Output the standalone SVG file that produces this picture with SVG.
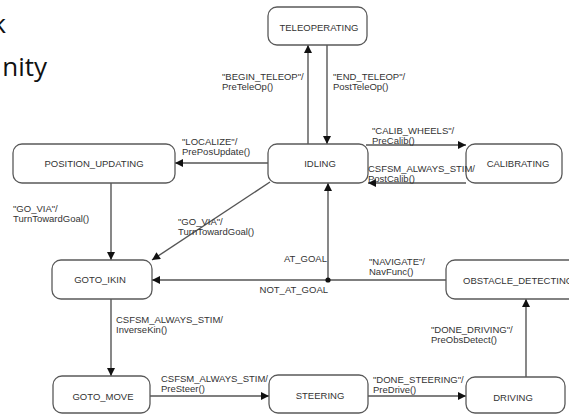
<svg xmlns="http://www.w3.org/2000/svg" width="569" height="415" viewBox="0 0 569 415">
  <style>
    .node rect { fill: #ffffff; stroke: #5a5a5a; stroke-width: 1.3; }
    .node text { font-family: "Liberation Sans", Arial, sans-serif; font-size: 9.5px; fill: #333333; text-anchor: middle; dominant-baseline: central; }
    .edge { fill: none; stroke: #555555; stroke-width: 1.4; }
    .lbl { font-family: "Liberation Sans", Arial, sans-serif; font-size: 9.5px; fill: #333333; }
    .slide { font-family: "Open Sans", "Noto Sans", sans-serif; font-size: 26px; fill: #111111; }
  </style>
  <defs>
    <marker id="arr" viewBox="0 0 10 10" refX="10" refY="5" markerWidth="9" markerHeight="8" markerUnits="userSpaceOnUse" orient="auto">
      <path d="M0,0 L10,5 L0,10 z" fill="#111111"/>
    </marker>
  </defs>

  <rect width="569" height="415" fill="#ffffff"/>

  <!-- slide text cut at the left edge -->
  <text class="slide" x="6" y="33" text-anchor="end">k</text>
  <text class="slide" x="47" y="76" text-anchor="end">nity</text>

  <!-- connectors -->
  <g id="connectors">
    <line class="edge" x1="308" y1="144" x2="308" y2="45" marker-end="url(#arr)"/>
    <line class="edge" x1="327" y1="45" x2="327" y2="144" marker-end="url(#arr)"/>
    <line class="edge" x1="268" y1="163" x2="175" y2="163" marker-end="url(#arr)"/>
    <line class="edge" x1="366" y1="145" x2="466" y2="145" marker-end="url(#arr)"/>
    <line class="edge" x1="466" y1="183" x2="368" y2="183" marker-end="url(#arr)"/>
    <line class="edge" x1="111" y1="183" x2="111" y2="260" marker-end="url(#arr)"/>
    <line class="edge" x1="270" y1="182" x2="152" y2="260" marker-end="url(#arr)"/>
    <line class="edge" x1="446" y1="280" x2="152" y2="280" marker-end="url(#arr)"/>
    <line class="edge" x1="328" y1="280" x2="328" y2="183" marker-end="url(#arr)"/>
    <circle cx="328" cy="280" r="2.6" fill="#111111"/>
    <line class="edge" x1="111" y1="299" x2="111" y2="376" marker-end="url(#arr)"/>
    <line class="edge" x1="150" y1="396" x2="269" y2="396" marker-end="url(#arr)"/>
    <line class="edge" x1="368" y1="396" x2="466" y2="396" marker-end="url(#arr)"/>
    <line class="edge" x1="526" y1="377" x2="526" y2="299" marker-end="url(#arr)"/>
  </g>

  <!-- states -->
  <g id="teleoperating" class="node">
    <rect x="268" y="7" width="99" height="38" rx="9"/>
    <text x="319" y="27">TELEOPERATING</text>
  </g>
  <g id="idling" class="node">
    <rect x="268" y="144" width="100" height="39" rx="9"/>
    <text x="320" y="163">IDLING</text>
  </g>
  <g id="calibrating" class="node">
    <rect x="466" y="144" width="96" height="39" rx="9"/>
    <text x="518" y="163">CALIBRATING</text>
  </g>
  <g id="position_updating" class="node">
    <rect x="13" y="144" width="162" height="39" rx="9"/>
    <text x="94" y="163">POSITION_UPDATING</text>
  </g>
  <g id="goto_ikin" class="node">
    <rect x="52" y="260" width="100" height="39" rx="9"/>
    <text x="100" y="279">GOTO_IKIN</text>
  </g>
  <g id="obstacle_detecting" class="node">
    <rect x="446" y="260" width="150" height="39" rx="9"/>
    <text x="463" y="280" style="text-anchor:start">OBSTACLE_DETECTING</text>
  </g>
  <g id="goto_move" class="node">
    <rect x="53" y="376" width="97" height="37" rx="9"/>
    <text x="103" y="396">GOTO_MOVE</text>
  </g>
  <g id="steering" class="node">
    <rect x="269" y="375" width="99" height="38" rx="9"/>
    <text x="320" y="395">STEERING</text>
  </g>
  <g id="driving" class="node">
    <rect x="466" y="377" width="99" height="36" rx="9"/>
    <text x="513" y="397">DRIVING</text>
  </g>

  <!-- transition labels: event / action -->
  <g id="transition-labels">
    <text class="lbl" x="222" y="80">"BEGIN_TELEOP"/</text>
    <text class="lbl" x="222" y="89.5">PreTeleOp()</text>
    <text class="lbl" x="333" y="80">"END_TELEOP"/</text>
    <text class="lbl" x="333" y="89.5">PostTeleOp()</text>
    <text class="lbl" x="182" y="145">"LOCALIZE"/</text>
    <text class="lbl" x="182" y="155">PrePosUpdate()</text>
    <text class="lbl" x="372" y="134">"CALIB_WHEELS"/</text>
    <text class="lbl" x="372" y="143.5">PreCalib()</text>
    <text class="lbl" x="368" y="172">CSFSM_ALWAYS_STIM/</text>
    <text class="lbl" x="368" y="181.5">PostCalib()</text>
    <text class="lbl" x="13" y="212">"GO_VIA"/</text>
    <text class="lbl" x="13" y="222">TurnTowardGoal()</text>
    <text class="lbl" x="178" y="225">"GO_VIA"/</text>
    <text class="lbl" x="178" y="235">TurnTowardGoal()</text>
    <text class="lbl" x="327" y="262" text-anchor="end">AT_GOAL</text>
    <text class="lbl" x="328" y="293" text-anchor="end">NOT_AT_GOAL</text>
    <text class="lbl" x="369" y="265">"NAVIGATE"/</text>
    <text class="lbl" x="369" y="274.5">NavFunc()</text>
    <text class="lbl" x="431" y="333">"DONE_DRIVING"/</text>
    <text class="lbl" x="431" y="343">PreObsDetect()</text>
    <text class="lbl" x="116" y="323">CSFSM_ALWAYS_STIM/</text>
    <text class="lbl" x="116" y="332.5">InverseKin()</text>
    <text class="lbl" x="161" y="382">CSFSM_ALWAYS_STIM/</text>
    <text class="lbl" x="161" y="391.5">PreSteer()</text>
    <text class="lbl" x="373" y="383">"DONE_STEERING"/</text>
    <text class="lbl" x="373" y="392.5">PreDrive()</text>
  </g>
</svg>
